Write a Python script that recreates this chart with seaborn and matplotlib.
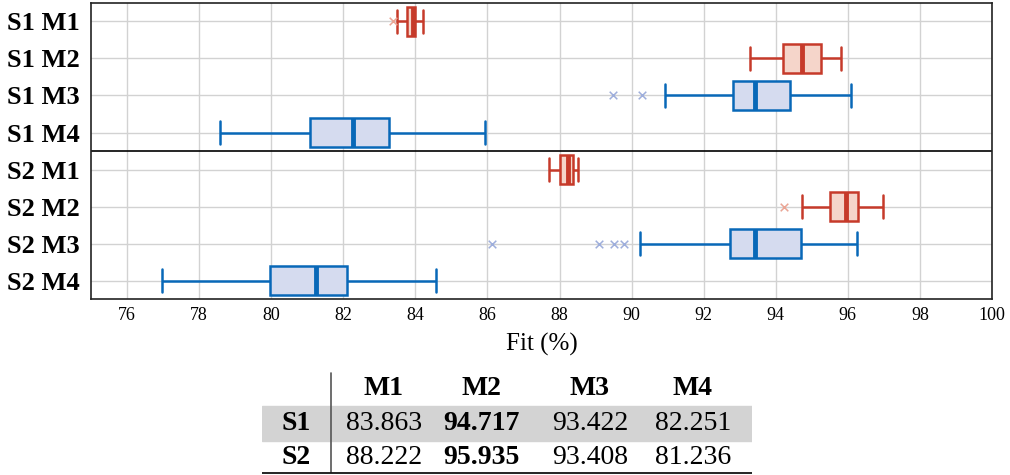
import numpy as np
import pandas as pd
import seaborn as sns
import matplotlib.pyplot as plt

# rows, top to bottom
runs = ["S1 M1", "S1 M2", "S1 M3", "S1 M4", "S2 M1", "S2 M2", "S2 M3", "S2 M4"]
groups = ["red", "red", "blue", "blue", "red", "red", "blue", "blue"]

# five number summaries (lower whisker, q1, median, q3, upper whisker)
whis_lo = [83.50, 93.29, 90.93, 78.58, 87.70, 94.73, 90.23, 76.98]
q1 = [83.77, 94.21, 92.81, 81.08, 88.02, 95.50, 92.74, 79.98]
med = [83.94, 94.72, 93.43, 82.26, 88.23, 95.95, 93.42, 81.24]
q3 = [84.00, 95.25, 94.40, 83.27, 88.38, 96.28, 94.70, 82.09]
whis_hi = [84.20, 95.80, 96.10, 85.93, 88.50, 96.97, 96.24, 84.57]

# outliers
flier_run = ["S1 M1", "S1 M3", "S1 M3", "S2 M2", "S2 M3", "S2 M3", "S2 M3", "S2 M3"]
flier_val = [83.39, 89.47, 90.28, 94.23, 86.12, 89.10, 89.52, 89.79]

# table under the plot
tab_cols = ["M1", "M2", "M3", "M4"]
tab_rows = ["S1", "S2"]
tab_vals = [[83.863, 94.717, 93.422, 82.251],
            [88.222, 95.935, 93.408, 81.236]]

colors = {"red": ("#f5d5ca", "#c63a2a", "#eaa595"),
          "blue": ("#d5dbef", "#0868b8", "#9eaedb")}

rows = []
for i, r in enumerate(runs):
    for v in (whis_lo[i], q1[i], med[i], q3[i], whis_hi[i]):
        rows.append({"run": r, "fit": v, "group": groups[i]})
df = pd.DataFrame(rows)

sns.set_theme(style="whitegrid")
plt.rcParams["font.family"] = ["Liberation Serif", "DejaVu Serif"]
plt.rcParams["text.color"] = "black"
plt.rcParams["axes.labelcolor"] = "black"
plt.rcParams["xtick.color"] = "black"
plt.rcParams["ytick.color"] = "black"

fig = plt.figure(figsize=(10.1, 4.75), dpi=100)
ax = fig.add_axes([0.0901, 0.3705, 0.8921, 0.6232])

for g, (fill, edge, fl) in colors.items():
    sub = df[df["group"] == g]
    sns.boxplot(data=sub, x="fit", y="run", order=runs, ax=ax, whis=(0, 100),
                color=fill, linecolor=edge, linewidth=1.8, saturation=1,
                width=0.8, capwidths=0.62,
                medianprops=dict(linewidth=3.5, color=edge),
                showfliers=False)
    fr = [r for r in flier_run if groups[runs.index(r)] == g]
    fv = [v for r, v in zip(flier_run, flier_val) if groups[runs.index(r)] == g]
    sns.scatterplot(x=fv, y=[runs.index(r) for r in fr], marker="x", color=fl,
                    s=30, linewidth=1.1, ax=ax, zorder=3)

ax.set_xlim(75, 100)
ax.set_ylim(7.5, -0.5)
ax.set_xticks(np.arange(76, 101, 2))
ax.set_yticks(range(len(runs)))
ax.set_yticklabels(runs, fontsize=19, fontweight="bold")
ax.tick_params(axis="x", labelsize=13, length=0, pad=6)
ax.tick_params(axis="y", length=0, pad=8)
ax.set_xlabel("Fit (%)", fontsize=18, labelpad=6)
ax.set_ylabel("")
ax.grid(True, color="#d2d2d2", linewidth=1)
ax.axhline(3.5, color="black", linewidth=1.2)
for s in ax.spines.values():
    s.set_color("#222222")
    s.set_linewidth(1.2)

# table
tax = fig.add_axes([0.2594, 0.002, 0.485, 0.2148])
tax.set_xlim(262, 752)
tax.set_ylim(474, 372)
tax.axis("off")
tax.axhspan(406, 441, xmin=0, xmax=1, color="#d3d3d3", zorder=0)
tax.plot([331, 331], [373, 472], color="#555555", linewidth=1.2)
tax.plot([262, 752], [473, 473], color="black", linewidth=1.2)
col_x = [384, 482, 590, 693]
row_y = [423, 457]
for cx, c in zip(col_x, tab_cols):
    tax.text(cx, 388, c, ha="center", va="center", fontsize=20, fontweight="bold")
for ry, rname, vals in zip(row_y, tab_rows, tab_vals):
    tax.text(296, ry, rname, ha="center", va="center", fontsize=20, fontweight="bold")
    best = max(vals)
    for cx, v in zip(col_x, vals):
        tax.text(cx, ry, f"{v:.3f}", ha="center", va="center", fontsize=20,
                 fontweight="bold" if v == best else "normal")

fig.savefig("out.png", dpi=100)
